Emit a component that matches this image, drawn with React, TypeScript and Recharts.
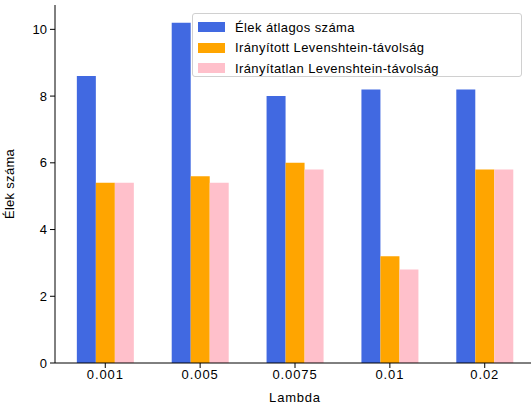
import { BarChart, Bar, XAxis, YAxis, Label } from "recharts";

const lambdas = ["0.001", "0.005", "0.0075", "0.01", "0.02"];
const avgEdges = [8.6, 10.2, 8.0, 8.2, 8.2];
const directedLev = [5.4, 5.6, 6.0, 3.2, 5.8];
const undirectedLev = [5.4, 5.4, 5.8, 2.8, 5.8];
const yTicks = [0, 2, 4, 6, 8, 10];

const seriesInfo = [
  { key: "avg", name: "Élek átlagos száma", color: "#4169E1" },
  { key: "dir", name: "Irányított Levenshtein-távolság", color: "#FFA500" },
  { key: "undir", name: "Irányítatlan Levenshtein-távolság", color: "#FFC0CB" },
];

const chartData = lambdas.map((l, i) => ({
  idx: i,
  lambda: l,
  avg: avgEdges[i],
  dir: directedLev[i],
  undir: undirectedLev[i],
}));

const font = "'Liberation Sans', Arial, sans-serif";
const tickStyle = { fill: "#000", fontSize: 13, fontFamily: font };
const xTickStyle = { ...tickStyle, letterSpacing: 0.9 };

function ChartLegend() {
  return (
    <div
      style={{
        position: "absolute",
        left: 192,
        top: 13,
        width: 330,
        height: 64,
        border: "1px solid #d0d0d0",
        borderRadius: 3,
        background: "rgba(255,255,255,0.8)",
        fontFamily: font,
        fontSize: 13,
        color: "#000",
        boxSizing: "border-box",
      }}
    >
      {seriesInfo.map((s, i) => (
        <div
          key={s.key}
          style={{
            position: "absolute",
            left: 5,
            top: 3 + i * 20.5,
            height: 20,
            display: "flex",
            alignItems: "center",
            whiteSpace: "nowrap",
          }}
        >
          <span
            style={{
              display: "inline-block",
              width: 27,
              height: 10,
              background: s.color,
              marginRight: 10,
            }}
          />
          <span style={{ letterSpacing: 0.4 }}>{s.name}</span>
        </div>
      ))}
    </div>
  );
}

export default function App() {
  return (
    <div
      style={{
        position: "absolute",
        left: 0,
        top: 0,
        width: 531,
        height: 407,
        overflow: "hidden",
        background: "#fff",
      }}
    >
      <BarChart
        width={540}
        height={407}
        data={chartData}
        margin={{ top: 5, right: 5, left: 0, bottom: 0 }}
        barGap={0}
        barSize={19}
      >
        <XAxis
          dataKey="idx"
          type="number"
          domain={[-0.53, 4.53]}
          ticks={[0, 1, 2, 3, 4]}
          tickFormatter={(v: number) => lambdas[v] ?? ""}
          allowDataOverflow
          height={44}
          tickSize={5}
          tickMargin={2}
          tick={xTickStyle}
          axisLine={{ stroke: "#000", strokeWidth: 1 }}
          tickLine={{ stroke: "#000" }}
        >
          <Label
            value="Lambda"
            position="insideBottom"
            offset={5}
            style={{ fill: "#000", fontSize: 13, fontFamily: font, letterSpacing: 0.8 }}
          />
        </XAxis>
        <XAxis
          xAxisId="top"
          dataKey="idx"
          type="number"
          orientation="top"
          domain={[-0.53, 4.53]}
          allowDataOverflow
          height={0}
          tick={false}
          tickLine={false}
          axisLine={{ stroke: "#000", strokeWidth: 1 }}
        />
        <YAxis
          width={55}
          domain={[0, 10.73]}
          ticks={yTicks}
          allowDataOverflow
          tickSize={5}
          tickMargin={3}
          tick={tickStyle}
          axisLine={{ stroke: "#000", strokeWidth: 1 }}
          tickLine={{ stroke: "#000" }}
        >
          <Label
            content={({ viewBox }: any) => {
              const cy = viewBox.y + viewBox.height / 2;
              return (
                <text
                  x={14}
                  y={cy}
                  transform={`rotate(-90 14 ${cy})`}
                  textAnchor="middle"
                  fill="#000"
                  fontSize={13}
                  fontFamily={font}
                  letterSpacing={0.3}
                >
                  Élek száma
                </text>
              );
            }}
          />
        </YAxis>
        {seriesInfo.map((s) => (
          <Bar
            key={s.key}
            dataKey={s.key}
            name={s.name}
            fill={s.color}
            isAnimationActive={false}
          />
        ))}
      </BarChart>
      <ChartLegend />
    </div>
  );
}
